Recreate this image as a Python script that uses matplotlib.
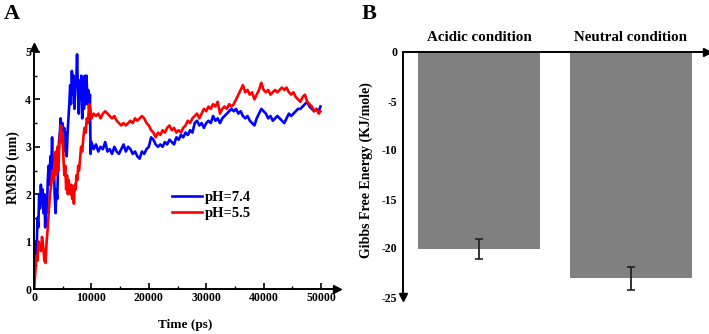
import matplotlib
matplotlib.use("Agg")
import matplotlib.pyplot as plt
from matplotlib.ticker import MultipleLocator

plt.rcParams['font.family'] = ['Liberation Serif', 'DejaVu Serif']
plt.rcParams['font.weight'] = 'bold'

# ---------------- data ----------------
blue_t = [0, 150, 300, 450, 600, 750, 900, 1050, 1200, 1350, 1500, 1650, 1800, 1950, 2100, 2250,
          2400, 2550, 2700, 2850, 3000, 3150, 3300, 3450, 3600, 3750, 3900, 4050, 4200, 4350, 4500,
          4650, 4800, 4950, 5100, 5250, 5400, 5550, 5700, 5850, 6000, 6150, 6300, 6450, 6600, 6750,
          6900, 7050, 7200, 7350, 7500, 7650, 7800, 7950, 8100, 8250, 8400, 8550, 8700, 8850, 9000,
          9150, 9300, 9450, 9600, 9750, 9850, 10000, 10400, 10800, 11200, 11600, 12000, 12400, 12800,
          13200, 13600, 14000, 14400, 14800, 15200, 15600, 16000, 16400, 16800, 17200, 17600, 18000,
          18400, 18800, 19200, 19600, 20000, 20400, 20800, 21200, 21600, 22000, 22400, 22800, 23200,
          23600, 24000, 24400, 24800, 25200, 25600, 26000, 26400, 26800, 27200, 27600, 28000, 28400,
          28800, 29200, 29600, 30000, 30400, 30800, 31200, 31600, 32000, 32400, 32800, 33200, 33600,
          34000, 34400, 34800, 35200, 35600, 36000, 36400, 36800, 37200, 37600, 38000, 38400, 38800,
          39200, 39600, 40000, 40400, 40800, 41200, 41600, 42000, 42400, 42800, 43200, 43600, 44000,
          44400, 44800, 45200, 45600, 46000, 46400, 46800, 47200, 47600, 48000, 48400, 48800, 49200,
          49600, 49900]
blue_v = [0.0, 0.6, 1.0, 0.7, 1.5, 1.3, 2.0, 1.7, 2.2, 1.8, 2.1, 1.6, 2.0, 1.3, 1.8, 1.6,
          2.3, 2.6, 2.2, 2.8, 2.5, 3.2, 2.4, 2.7, 2.0, 1.6, 2.1, 1.9, 2.6, 3.1, 3.3,
          3.6, 3.1, 3.5, 3.0, 3.4, 2.9, 3.3, 2.8, 3.3, 3.6, 3.9, 4.3, 3.9, 4.6, 4.1,
          4.5, 3.8, 4.4, 4.3, 4.95, 4.2, 3.7, 4.4, 4.0, 4.5, 3.6, 4.2, 3.8, 4.5, 3.9,
          4.5, 3.9, 4.2, 3.8, 4.1, 2.85, 3.1, 2.95, 3.05, 2.9, 3.0, 2.95, 3.1, 2.9,
          2.95, 2.85, 3.0, 2.9, 2.85, 2.95, 3.05, 2.9, 3.0, 2.95, 2.85, 2.9, 2.8,
          2.75, 2.9, 2.85, 2.95, 3.0, 3.2, 3.15, 3.05, 3.0, 3.05, 3.0, 3.1, 3.05,
          3.15, 3.1, 3.05, 3.2, 3.15, 3.25, 3.2, 3.3, 3.25, 3.35, 3.3, 3.5, 3.55,
          3.45, 3.5, 3.4, 3.5, 3.55, 3.5, 3.65, 3.55, 3.6, 3.5, 3.6, 3.65, 3.7,
          3.75, 3.8, 3.75, 3.8, 3.7, 3.75, 3.65, 3.6, 3.65, 3.55, 3.5, 3.45, 3.6,
          3.7, 3.8, 3.75, 3.7, 3.6, 3.65, 3.55, 3.6, 3.65, 3.6, 3.55, 3.5, 3.6,
          3.7, 3.65, 3.7, 3.75, 3.8, 3.8, 3.85, 3.9, 3.95, 3.85, 3.8, 3.75, 3.8,
          3.75, 3.85]

red_t = [0, 200, 400, 600, 800, 1000, 1200, 1400, 1600, 1800, 2000, 2200, 2400, 2600, 2800, 3000,
         3200, 3400, 3600, 3800, 3950, 4100, 4250, 4400, 4550, 4700, 4850, 5000, 5150, 5300, 5450,
         5600, 5750, 5900, 6050, 6200, 6350, 6500, 6650, 6800, 6950, 7100, 7250, 7400, 7550, 7700,
         7850, 8000, 8200, 8400, 8600, 8800, 9000, 9200, 9400, 9600, 9800, 10000, 10400, 10800,
         11200, 11600, 12000, 12400, 12800, 13200, 13600, 14000, 14400, 14800, 15200, 15600, 16000,
         16400, 16800, 17200, 17600, 18000, 18400, 18800, 19200, 19600, 20000, 20400, 20800, 21200,
         21600, 22000, 22400, 22800, 23200, 23600, 24000, 24400, 24800, 25200, 25600, 26000, 26400,
         26800, 27200, 27600, 28000, 28400, 28800, 29200, 29600, 30000, 30400, 30800, 31200, 31600,
         32000, 32400, 32800, 33200, 33600, 34000, 34400, 34800, 35200, 35600, 36000, 36400, 36800,
         37200, 37600, 38000, 38400, 38800, 39200, 39600, 40000, 40400, 40800, 41200, 41600, 42000,
         42400, 42800, 43200, 43600, 44000, 44400, 44800, 45200, 45600, 46000, 46400, 46800, 47200,
         47600, 48000, 48400, 48800, 49200, 49600, 49900]
red_v = [0.0, 0.3, 0.7, 0.6, 1.0, 0.85, 0.8, 1.1, 0.9, 0.6, 0.55, 1.0, 1.3, 1.7, 2.0, 2.2,
         2.5, 2.3, 2.7, 2.9, 2.4, 3.0, 2.5, 3.0, 3.3, 3.45, 3.1, 3.3, 2.7, 2.4, 2.6,
         2.1, 2.4, 2.0, 2.3, 2.1, 2.0, 2.2, 1.9, 2.1, 1.8, 2.2, 2.1, 2.4, 2.3, 2.6,
         2.5, 2.7, 3.0, 2.9, 3.2, 3.4, 3.3, 3.6, 3.5, 3.9, 3.8, 3.6, 3.7, 3.65,
         3.7, 3.6, 3.7, 3.75, 3.7, 3.65, 3.6, 3.65, 3.55, 3.5, 3.45, 3.5, 3.45,
         3.5, 3.55, 3.5, 3.6, 3.55, 3.6, 3.65, 3.6, 3.5, 3.45, 3.35, 3.3, 3.2,
         3.3, 3.25, 3.35, 3.3, 3.4, 3.45, 3.35, 3.4, 3.3, 3.35, 3.3, 3.4, 3.45,
         3.55, 3.5, 3.6, 3.65, 3.7, 3.6, 3.7, 3.8, 3.75, 3.85, 3.8, 3.9, 3.85,
         3.95, 3.7, 3.8, 3.85, 3.8, 3.9, 3.85, 3.9, 4.0, 4.1, 4.2, 4.3, 4.15,
         4.2, 4.1, 4.15, 4.0, 4.1, 4.2, 4.35, 4.2, 4.15, 4.2, 4.1, 4.15, 4.2,
         4.15, 4.2, 4.25, 4.2, 4.25, 4.15, 4.1, 4.15, 4.05, 4.0, 3.95, 4.05, 4.1,
         3.95, 3.9, 3.85, 3.75, 3.8, 3.7, 3.75]

series_labels = ["pH=7.4", "pH=5.5"]

categories = ["Acidic condition", "Neutral condition"]
gibbs = [-20.1, -23.1]
gibbs_err = [1.0, 1.15]

x_ticks_a = [0, 10000, 20000, 30000, 40000, 50000]
y_ticks_a = [0, 1, 2, 3, 4, 5]
y_ticks_b = [0, -5, -10, -15, -20, -25]

# ---------------- figure ----------------
W, H = 709, 334
fig = plt.figure(figsize=(W / 100, H / 100), dpi=100)

def px_axes(l, t, r, b):
    return fig.add_axes([l / W, 1 - b / H, (r - l) / W, (b - t) / H])

tick_fs = 8.5
label_fs = 10

# ---- Panel A ----
axA = px_axes(34, 47, 337, 289)
axA.plot(blue_t, blue_v, color='#0000ff', lw=1.9, label=series_labels[0])
axA.plot(red_t, red_v, color='#ff0000', lw=1.9, label=series_labels[1])
axA.set_xlim(0, 50000 * (337 - 34) / 287)
axA.set_ylim(0, 5 * (289 - 47) / (289 - 52))
axA.set_xticks(x_ticks_a)
axA.set_yticks(y_ticks_a)
axA.xaxis.set_minor_locator(MultipleLocator(5000))
axA.yaxis.set_minor_locator(MultipleLocator(0.5))
axA.tick_params(which='major', direction='in', length=4, width=1.2, labelsize=tick_fs, pad=2)
axA.tick_params(which='minor', direction='in', length=2.5, width=1.0)
for s in ['top', 'right']:
    axA.spines[s].set_visible(False)
for s in ['left', 'bottom']:
    axA.spines[s].set_linewidth(1.4)
axA.plot(1, 0, marker='>', color='black', markersize=6, transform=axA.transAxes, clip_on=False)
axA.plot(0, 1, marker='^', color='black', markersize=6, transform=axA.transAxes, clip_on=False)
axA.set_xlabel("Time (ps)", fontsize=9.5, fontweight='bold', labelpad=11)
axA.set_ylabel("RMSD (nm)", fontsize=label_fs, fontweight='bold', labelpad=4)
for lab in axA.get_xticklabels() + axA.get_yticklabels():
    lab.set_fontweight('bold')
leg = axA.legend(loc='upper left', bbox_to_anchor=(0.457, 0.405), frameon=False,
                 fontsize=10.5, handlelength=2.0, handletextpad=0.2, labelspacing=0.2,
                 borderpad=0, borderaxespad=0)
for t in leg.get_texts():
    t.set_fontweight('bold')

fig.text(4 / W, 1 - 14 / H, "A", fontsize=16, fontweight='bold', va='center', ha='left')

# ---- Panel B ----
axB = px_axes(403, 52, 707, 297)
xpos = list(range(len(categories)))
axB.bar(xpos, gibbs, width=0.8, color='#808080', zorder=2)
axB.errorbar(xpos, gibbs, yerr=gibbs_err, fmt='none', ecolor='#222222', elinewidth=1.3,
             capsize=3, capthick=1.2, zorder=3)
axB.set_xlim(-0.5, 1.5)
axB.set_ylim(-25, 0)
axB.set_yticks(y_ticks_b)
axB.set_yticklabels([str(v) for v in y_ticks_b])
axB.xaxis.tick_top()
axB.set_xticks(xpos)
axB.set_xticklabels(categories)
axB.tick_params(axis='x', length=0, labelsize=10.8, pad=6)
axB.tick_params(axis='y', direction='in', length=0, labelsize=tick_fs, pad=4)
for s in ['bottom', 'right']:
    axB.spines[s].set_visible(False)
for s in ['left', 'top']:
    axB.spines[s].set_linewidth(1.4)
    axB.spines[s].set_zorder(4)
axB.plot(1, 1, marker='>', color='black', markersize=6, transform=axB.transAxes, clip_on=False)
axB.plot(0, 0, marker='v', color='black', markersize=6, transform=axB.transAxes, clip_on=False)
for lab in axB.get_xticklabels() + axB.get_yticklabels():
    lab.set_fontweight('bold')
fig.text(366 / W, 1 - 170 / H, "Gibbs Free Energy (KJ/mole)", rotation=90, fontsize=label_fs,
         fontweight='bold', va='center', ha='center')

fig.text(362 / W, 1 - 14 / H, "B", fontsize=16, fontweight='bold', va='center', ha='left')

fig.savefig("out.png", dpi=100)
